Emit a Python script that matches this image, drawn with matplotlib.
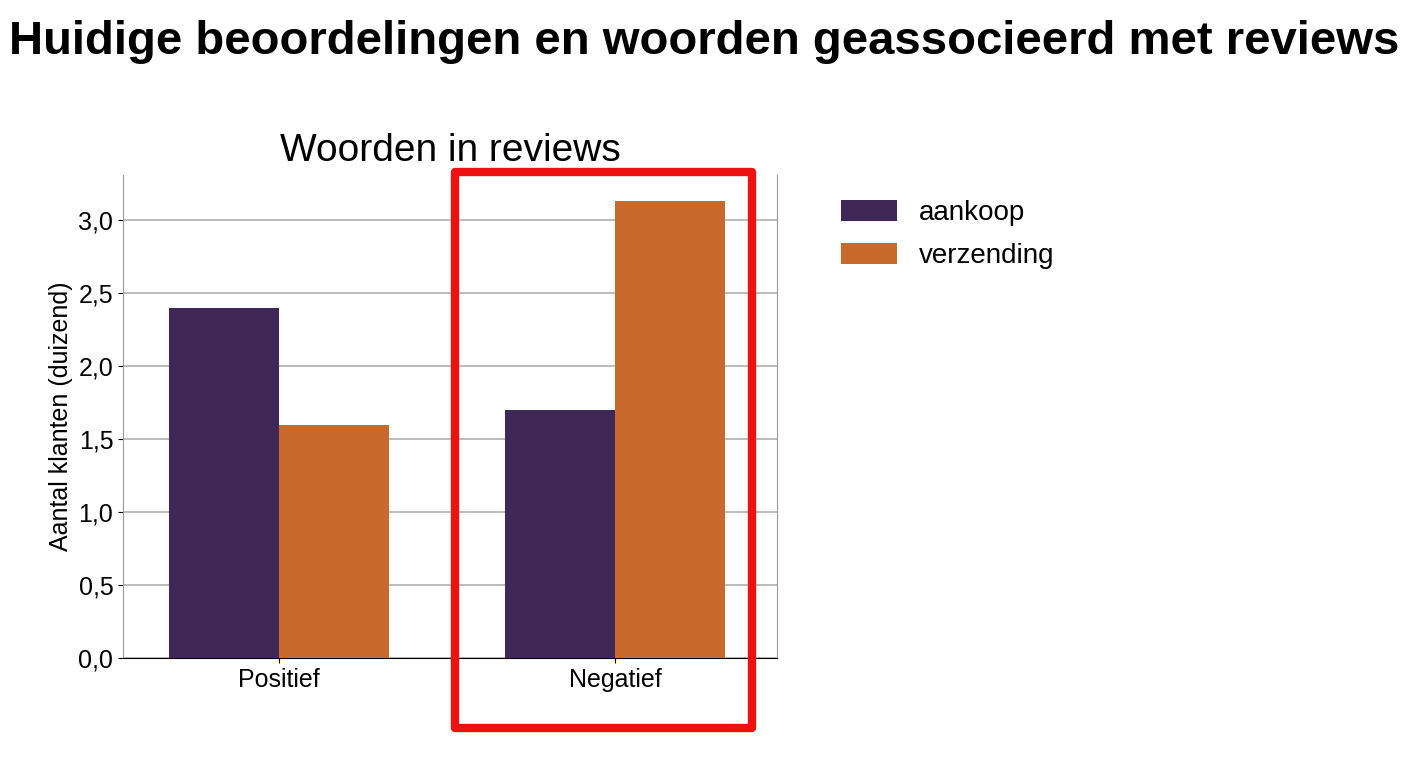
import matplotlib
matplotlib.use("Agg")
import matplotlib.pyplot as plt
from matplotlib.patches import Rectangle
import numpy as np

plt.rcParams['font.family'] = ['Liberation Sans', 'DejaVu Sans']

categories = ["Positief", "Negatief"]
series_names = ["aankoop", "verzending"]
aankoop = [2.4, 1.7]
verzending = [1.6, 3.13]
yticks = [0.0, 0.5, 1.0, 1.5, 2.0, 2.5, 3.0]
ytick_labels = ["0,0", "0,5", "1,0", "1,5", "2,0", "2,5", "3,0"]
colors = ["#3f2758", "#c76a2b"]

fig = plt.figure(figsize=(14.08, 7.68), dpi=100)
ax = fig.add_axes([123/1408, 1-658/768, (777-123)/1408, (658-175)/768])
x = np.arange(len(categories))
w = 0.327
ax.bar(x - w/2, aankoop, w, color=colors[0], label=series_names[0], zorder=3)
ax.bar(x + w/2, verzending, w, color=colors[1], label=series_names[1], zorder=3)
ax.set_xlim(-0.464, 1.482)
ax.set_ylim(0, 3.31)
ax.set_yticks(yticks)
ax.set_yticklabels(ytick_labels)
ax.set_xticks(x)
ax.set_xticklabels(categories)
ax.tick_params(labelsize=18)
ax.yaxis.grid(True, color="#b0b0b0", linewidth=1.2, zorder=0)
ax.spines['top'].set_visible(False)
for s in ['left', 'right']:
    ax.spines[s].set_color("#999999")
ax.spines['bottom'].set_color("black")
ax.set_ylabel("Aantal klanten (duizend)", fontsize=18)
ax.set_title("Woorden in reviews", fontsize=28, pad=10)
ax.legend(loc='upper left', bbox_to_anchor=(1.06, 1.0), frameon=False, fontsize=20,
          handlelength=2.0, handleheight=0.8, labelspacing=0.6)

fig.text(0.5, 1-42/768, "Huidige beoordelingen en woorden geassocieerd met reviews",
         ha='center', va='center', fontsize=34, fontweight='bold')

fig.patches.append(Rectangle((455/1408, 1-728/768), (752-455)/1408, (728-172)/768,
                             transform=fig.transFigure, fill=False, edgecolor="#ee1111",
                             linewidth=6, joinstyle='round'))
fig.savefig("out.png", dpi=100)
